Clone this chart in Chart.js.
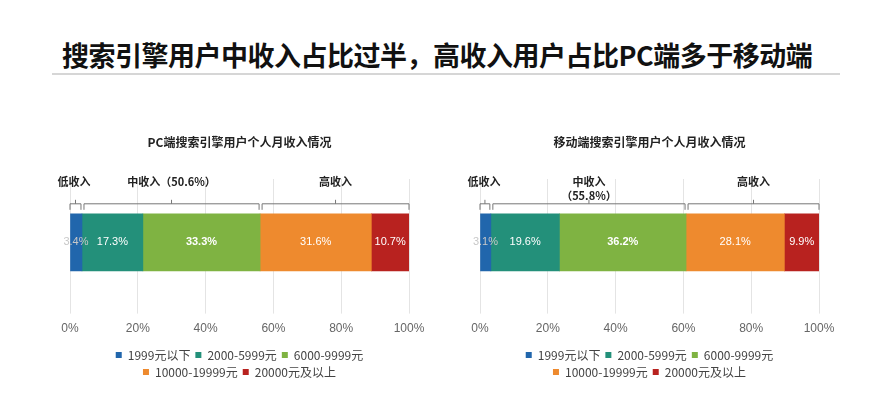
<!DOCTYPE html>
<html><head><meta charset="utf-8">
<script src="https://cdn.jsdelivr.net/npm/chart.js@4"></script>
<style>
body{margin:0;width:889px;height:400px;background:#fff;position:relative;overflow:hidden;font-family:"Noto Sans CJK SC","Noto Sans",sans-serif}
#title{position:absolute;left:62px;top:35px;font-size:27px;font-weight:bold;color:#111;letter-spacing:-0.5px}
#rule{position:absolute;left:52px;top:73px;width:788px;height:2px;background:#d6d6d6}
.box{position:absolute;top:127px;width:445px;height:261px}
</style></head>
<body>
<div id="title">搜索引擎用户中收入占比过半，高收入用户占比PC端多于移动端</div>
<div id="rule"></div>
<div class="box" style="left:0"><canvas id="pcChart"></canvas></div>
<div class="box" style="left:410px"><canvas id="mobileChart"></canvas></div>
<script>
// 收入分组与数据
const seriesNames = ['1999元以下', '2000-5999元', '6000-9999元', '10000-19999元', '20000元及以上'];
const seriesColors = ['#2166ac', '#23907a', '#7fb342', '#ee8a2e', '#b8221f'];
const pcValues = [3.4, 17.3, 33.3, 31.6, 10.7];
const mobileValues = [3.1, 19.6, 36.2, 28.1, 9.9];
const tickLabels = ['0%', '20%', '40%', '60%', '80%', '100%'];
const pcGroups = [['低收入'], ['中收入（50.6%）'], ['高收入']];
const mobileGroups = [['低收入'], ['中收入', '（55.8%）'], ['高收入']];

const FONT = '"Noto Sans CJK SC", "Noto Sans", sans-serif';

// 标题、数值标签与括号
const overlayPlugin = {
  id: 'overlay',
  afterDatasetsDraw(chart, args, opts) {
    const ctx = chart.ctx;
    const x = chart.scales.x;
    const area = chart.chartArea;
    const yMid = chart.getDatasetMeta(0).data[0].y;
    ctx.save();
    ctx.textAlign = 'center';
    ctx.textBaseline = 'middle';
    ctx.fillStyle = '#222';
    ctx.font = 'bold 12px ' + FONT;
    ctx.fillText(opts.title, (area.left + area.right) / 2, 15);

    // 数值标签
    let acc = 0;
    opts.values.forEach((v, i) => {
      const cx = x.getPixelForValue(acc + v / 2);
      acc += v;
      ctx.fillStyle = i === 0 ? '#c8c8c8' : '#fff';
      ctx.font = (i === 2 ? 'bold ' : '') + '11px "Liberation Sans", Arial';
      ctx.fillText(v.toFixed(1) + '%', cx, yMid);
    });

    // 括号（相对柱子顶部）
    const v = opts.values;
    const edges = [0, v[0], v[0] + v[1] + v[2], v.reduce((a, b) => a + b, 0)];
    const barTop = yMid - 28.5;
    const by = barTop - 10;
    ctx.strokeStyle = '#777';
    ctx.lineWidth = 1;
    for (let g = 0; g < 3; g++) {
      const x0 = x.getPixelForValue(edges[g]) + (g ? 2 : 0);
      const x1 = x.getPixelForValue(edges[g + 1]) - (g < 2 ? 1 : 0);
      const xm = (x0 + x1) / 2;
      ctx.beginPath();
      ctx.moveTo(x0, by + 6); ctx.lineTo(x0, by); ctx.lineTo(x1, by); ctx.lineTo(x1, by + 6);
      ctx.moveTo(xm, by); ctx.lineTo(xm, by - 4);
      ctx.stroke();
      const lines = opts.groups[g];
      ctx.fillStyle = '#222';
      ctx.font = 'bold 11px ' + FONT;
      const lx = g === 0 ? x0 + 4 : xm;
      lines.forEach((t, k) => ctx.fillText(t, lx, barTop - 32 + k * 14));
    }
    ctx.restore();
  }
};

function makeChart(id, values, title, groups) {
  const total = values.reduce((a, b) => a + b, 0);
  return new Chart(document.getElementById(id), {
    type: 'bar',
    data: {
      labels: [''],
      datasets: seriesNames.map((name, i) => ({
        label: name,
        data: [values[i]],
        backgroundColor: seriesColors[i],
        barThickness: 57
      }))
    },
    options: {
      indexAxis: 'y',
      responsive: true,
      maintainAspectRatio: false,
      animation: false,
      layout: { padding: { left: 70, right: 36, top: 52, bottom: 0 } },
      plugins: {
        legend: {
          position: 'bottom',
          labels: {
            color: '#444',
            boxWidth: 6, boxHeight: 6, padding: 5,
            font: { family: FONT, size: 12 }
          }
        },
        tooltip: { enabled: false },
        overlay: { values, title, groups }
      },
      scales: {
        x: {
          stacked: true, min: 0, max: total,
          afterBuildTicks: axis => { axis.ticks = tickLabels.map((t, i) => ({ value: total * i / 5 })); },
          border: { display: false },
          grid: { color: '#e4e4e4' },
          ticks: {
            color: '#666', padding: 8,
            font: { family: '"Liberation Sans", Arial', size: 12 },
            callback: (val, i) => tickLabels[i]
          }
        },
        y: { stacked: true, display: false }
      }
    },
    plugins: [overlayPlugin]
  });
}

makeChart('pcChart', pcValues, 'PC端搜索引擎用户个人月收入情况', pcGroups);
makeChart('mobileChart', mobileValues, '移动端搜索引擎用户个人月收入情况', mobileGroups);
</script>
</body></html>
